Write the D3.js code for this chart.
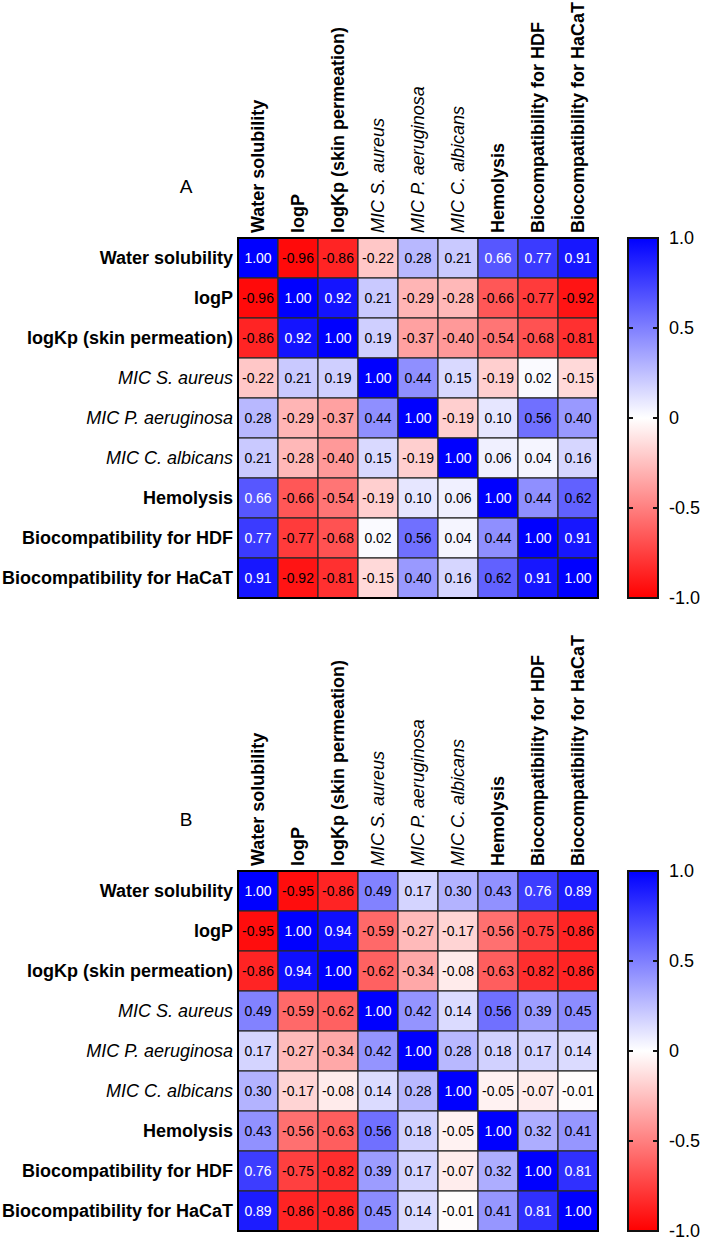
<!DOCTYPE html>
<html>
<head>
<meta charset="utf-8">
<script src="https://cdn.jsdelivr.net/npm/d3@7"></script>
<style>
  body { margin: 0; background: #fff; }
  svg text { font-family: "Liberation Sans", Arial, sans-serif; }
</style>
</head>
<body>
<svg class="svg1" width="704" height="1240"></svg>
<script>
var labels = ["Water solubility", "logP", "logKp (skin permeation)", "MIC S. aureus",
              "MIC P. aeruginosa", "MIC C. albicans", "Hemolysis",
              "Biocompatibility for HDF", "Biocompatibility for HaCaT"];

var matrixA = [
  [ 1.00, -0.96, -0.86, -0.22,  0.28,  0.21,  0.66,  0.77,  0.91],
  [-0.96,  1.00,  0.92,  0.21, -0.29, -0.28, -0.66, -0.77, -0.92],
  [-0.86,  0.92,  1.00,  0.19, -0.37, -0.40, -0.54, -0.68, -0.81],
  [-0.22,  0.21,  0.19,  1.00,  0.44,  0.15, -0.19,  0.02, -0.15],
  [ 0.28, -0.29, -0.37,  0.44,  1.00, -0.19,  0.10,  0.56,  0.40],
  [ 0.21, -0.28, -0.40,  0.15, -0.19,  1.00,  0.06,  0.04,  0.16],
  [ 0.66, -0.66, -0.54, -0.19,  0.10,  0.06,  1.00,  0.44,  0.62],
  [ 0.77, -0.77, -0.68,  0.02,  0.56,  0.04,  0.44,  1.00,  0.91],
  [ 0.91, -0.92, -0.81, -0.15,  0.40,  0.16,  0.62,  0.91,  1.00]
];

var matrixB = [
  [ 1.00, -0.95, -0.86,  0.49,  0.17,  0.30,  0.43,  0.76,  0.89],
  [-0.95,  1.00,  0.94, -0.59, -0.27, -0.17, -0.56, -0.75, -0.86],
  [-0.86,  0.94,  1.00, -0.62, -0.34, -0.08, -0.63, -0.82, -0.86],
  [ 0.49, -0.59, -0.62,  1.00,  0.42,  0.14,  0.56,  0.39,  0.45],
  [ 0.17, -0.27, -0.34,  0.42,  1.00,  0.28,  0.18,  0.17,  0.14],
  [ 0.30, -0.17, -0.08,  0.14,  0.28,  1.00, -0.05, -0.07, -0.01],
  [ 0.43, -0.56, -0.63,  0.56,  0.18, -0.05,  1.00,  0.32,  0.41],
  [ 0.76, -0.75, -0.82,  0.39,  0.17, -0.07,  0.32,  1.00,  0.81],
  [ 0.89, -0.86, -0.86,  0.45,  0.14, -0.01,  0.41,  0.81,  1.00]
];

var legendTicks = [1.0, 0.5, 0, -0.5, -1.0];
var legendTickLabels = ["1.0", "0.5", "0", "-0.5", "-1.0"];

var GRID_X = 238, GRID_SIZE = 360;
var LEG_X = 628, LEG_W = 30;

var color = d3.scaleLinear()
    .domain([-1, 0, 1])
    .range(["#ff0000", "#ffffff", "#0000ff"]);

var svg1 = d3.select(".svg1");

// gradient for the colour bar
var grad = svg1.append("defs").append("linearGradient")
    .attr("id", "legGrad")
    .attr("x1", 0).attr("y1", 1).attr("x2", 0).attr("y2", 0);
grad.selectAll("stop")
    .data(d3.range(0, 1.0001, 0.1))
    .enter()
    .append("stop")
    .attr("offset", function(d) { return d; })
    .attr("stop-color", function(d) { return color(d * 2 - 1); });

function isItalic(name) { return name.indexOf("MIC") === 0; }

function drawPanel(matrix, letter, top) {
    var g = svg1.append("g");

    var scaleX = d3.scaleBand().domain(labels).range([GRID_X, GRID_X + GRID_SIZE]);
    var scaleY = d3.scaleBand().domain(labels).range([top, top + GRID_SIZE]);

    var cells = [];
    matrix.forEach(function(row, i) {
        row.forEach(function(v, j) {
            cells.push({ r: labels[i], c: labels[j], v: v });
        });
    });

    g.selectAll(".cell")
        .data(cells)
        .enter()
        .append("rect")
        .attr("class", "cell")
        .attr("x", function(d) { return scaleX(d.c); })
        .attr("y", function(d) { return scaleY(d.r); })
        .attr("width", scaleX.bandwidth())
        .attr("height", scaleY.bandwidth())
        .attr("fill", function(d) { return color(d.v); })
        .attr("stroke", "#2a2a2a")
        .attr("stroke-width", 1.2);

    g.selectAll(".val")
        .data(cells)
        .enter()
        .append("text")
        .attr("class", "val")
        .attr("x", function(d) { return scaleX(d.c) + scaleX.bandwidth() / 2; })
        .attr("y", function(d) { return scaleY(d.r) + scaleY.bandwidth() / 2; })
        .attr("dy", "0.36em")
        .attr("text-anchor", "middle")
        .style("font-size", "14px")
        .attr("fill", function(d) { return d.v > 0.65 ? "#ffffff" : "#000000"; })
        .text(function(d) { return d.v.toFixed(2); });

    g.append("rect")
        .attr("x", GRID_X).attr("y", top)
        .attr("width", GRID_SIZE).attr("height", GRID_SIZE)
        .attr("fill", "none")
        .attr("stroke", "#000")
        .attr("stroke-width", 2);

    // row labels
    g.selectAll(".rowlab")
        .data(labels)
        .enter()
        .append("text")
        .attr("class", "rowlab")
        .attr("x", GRID_X - 5)
        .attr("y", function(d) { return scaleY(d) + scaleY.bandwidth() / 2; })
        .attr("dy", "0.36em")
        .attr("text-anchor", "end")
        .style("font-size", "18px")
        .style("font-weight", function(d) { return isItalic(d) ? "normal" : "bold"; })
        .style("font-style", function(d) { return isItalic(d) ? "italic" : "normal"; })
        .text(function(d) { return d; });

    // column labels
    g.selectAll(".collab")
        .data(labels)
        .enter()
        .append("text")
        .attr("class", "collab")
        .attr("transform", function(d) {
            return "translate(" + (scaleX(d) + scaleX.bandwidth() / 2) + "," + (top - 5) + ") rotate(-90)";
        })
        .attr("dy", "0.36em")
        .attr("text-anchor", "start")
        .style("font-size", "18px")
        .style("font-weight", function(d) { return isItalic(d) ? "normal" : "bold"; })
        .style("font-style", function(d) { return isItalic(d) ? "italic" : "normal"; })
        .text(function(d) { return d; });

    g.append("text")
        .attr("x", 186)
        .attr("y", top - 45)
        .attr("text-anchor", "middle")
        .style("font-family", "'Liberation Sans Narrow', 'Liberation Sans', sans-serif")
        .style("font-size", "19px")
        .text(letter);

    // colour bar
    var legY = d3.scaleLinear().domain([-1, 1]).range([top + GRID_SIZE, top]);

    g.append("rect")
        .attr("x", LEG_X).attr("y", top)
        .attr("width", LEG_W).attr("height", GRID_SIZE)
        .attr("fill", "url(#legGrad)")
        .attr("stroke", "#111")
        .attr("stroke-width", 2);

    var mid = legendTicks.filter(function(d) { return Math.abs(d) < 1; });
    g.selectAll(".tkl")
        .data(mid)
        .enter()
        .append("line")
        .attr("x1", LEG_X).attr("x2", LEG_X + 5)
        .attr("y1", function(d) { return legY(d); })
        .attr("y2", function(d) { return legY(d); })
        .attr("stroke", "#111").attr("stroke-width", 2);
    g.selectAll(".tkr")
        .data(mid)
        .enter()
        .append("line")
        .attr("x1", LEG_X + LEG_W - 5).attr("x2", LEG_X + LEG_W)
        .attr("y1", function(d) { return legY(d); })
        .attr("y2", function(d) { return legY(d); })
        .attr("stroke", "#111").attr("stroke-width", 2);

    g.selectAll(".leglab")
        .data(legendTicks)
        .enter()
        .append("text")
        .attr("x", LEG_X + LEG_W + 11)
        .attr("y", function(d) { return legY(d); })
        .attr("dy", "0.34em")
        .style("font-size", "18px")
        .text(function(d, i) { return legendTickLabels[i]; });
}

drawPanel(matrixA, "A", 238);
drawPanel(matrixB, "B", 871);
</script>
</body>
</html>
